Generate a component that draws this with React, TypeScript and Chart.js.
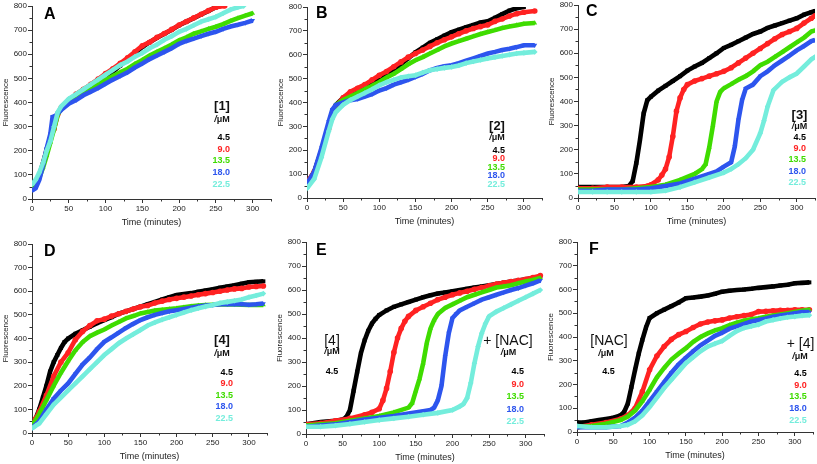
import React, { useEffect, useRef } from "react";
import { Chart, registerables } from "chart.js";

Chart.register(...registerables);

type Pt = [number, number];

const FONT = "'Liberation Sans', Arial, sans-serif";
const SERIES_COLORS = ["#000000", "#ff2222", "#3fdc00", "#2d55ee", "#74eddc"];
const CONC_LABELS = ["4.5", "9.0", "13.5", "18.0", "22.5"];
const X_TICKS = [0, 50, 100, 150, 200, 250, 300];
const Y_TICKS = [0, 100, 200, 300, 400, 500, 600, 700, 800];
const X_MINOR = [25, 75, 125, 175, 225, 275, 325];
const Y_MINOR = [50, 150, 250, 350, 450, 550, 650, 750];
const X_MAX = 325;
const Y_MAX = 800;

// ---------- Panel A : [1] ----------
const A_black: Pt[] = [[0,45],[5,70],[10,100],[15,150],[20,205],[25,255],[30,310],[35,355],[40,380],[50,405],[60,425],[70,445],[80,465],[90,482],[100,503],[110,528],[120,553],[130,580],[140,605],[150,630],[160,650],[170,668],[180,685],[190,702],[200,720],[210,735],[220,750],[230,765],[240,780],[250,795],[256,800]];
const A_red: Pt[] = [[0,45],[5,65],[10,95],[15,145],[20,200],[25,250],[30,290],[35,350],[40,380],[50,410],[60,435],[70,455],[80,475],[90,497],[100,520],[110,540],[120,562],[130,585],[140,610],[150,635],[160,650],[170,670],[180,686],[190,703],[200,721],[210,736],[220,751],[230,766],[240,781],[250,795],[262,800]];
const A_green: Pt[] = [[0,40],[5,60],[10,90],[15,130],[20,180],[25,235],[30,290],[35,350],[40,375],[50,400],[60,420],[70,440],[80,455],[90,475],[100,493],[110,510],[120,525],[130,540],[140,560],[150,576],[160,595],[170,610],[180,625],[190,640],[200,658],[210,670],[220,685],[230,695],[240,705],[250,714],[260,725],[270,738],[280,750],[290,760],[300,770]];
const A_blue: Pt[] = [[0,35],[5,45],[10,80],[15,140],[20,210],[25,270],[28,340],[32,345],[35,355],[40,370],[50,395],[60,410],[70,430],[80,445],[90,460],[100,478],[110,495],[120,510],[130,525],[140,545],[150,562],[160,580],[170,595],[180,610],[190,625],[200,643],[210,655],[220,665],[230,675],[240,685],[250,693],[260,705],[270,715],[280,722],[290,730],[300,740]];
const A_cyan: Pt[] = [[0,60],[5,80],[10,110],[15,150],[20,200],[25,240],[30,300],[35,360],[40,385],[50,415],[60,435],[70,455],[80,475],[90,495],[100,515],[110,535],[120,555],[130,570],[140,590],[150,605],[160,625],[170,640],[180,660],[190,675],[200,693],[210,705],[220,720],[230,735],[240,745],[250,755],[260,770],[270,785],[280,795],[288,800]];

// ---------- Panel B : [2] ----------
const B_black: Pt[] = [[0,60],[10,110],[20,200],[30,300],[35,360],[40,390],[50,420],[60,440],[70,455],[80,470],[90,480],[100,495],[110,515],[120,535],[130,560],[140,585],[150,610],[160,630],[170,650],[180,665],[190,680],[200,695],[210,705],[220,715],[230,725],[240,735],[250,740],[260,755],[270,770],[280,785],[290,795],[300,800]];
const B_red: Pt[] = [[0,65],[10,110],[20,190],[30,290],[35,340],[40,385],[50,420],[60,445],[70,460],[80,475],[90,495],[100,514],[110,530],[120,550],[130,570],[140,590],[150,605],[160,620],[170,635],[180,650],[190,663],[200,675],[210,688],[220,700],[230,710],[240,718],[250,725],[260,740],[270,750],[280,762],[290,772],[300,778],[315,783]];
const B_green: Pt[] = [[0,55],[10,100],[20,190],[30,300],[40,390],[50,410],[60,425],[70,440],[80,455],[90,470],[100,486],[110,505],[120,520],[130,540],[140,560],[150,577],[160,590],[170,605],[180,620],[190,635],[200,647],[210,657],[220,667],[230,677],[240,687],[250,695],[260,703],[270,712],[280,718],[290,724],[300,730],[315,733]];
const B_blue: Pt[] = [[0,60],[10,110],[20,210],[30,320],[35,370],[40,390],[50,400],[60,410],[70,415],[80,425],[90,435],[100,450],[110,460],[120,475],[130,485],[140,495],[150,507],[160,520],[170,535],[180,545],[190,552],[200,556],[210,565],[220,575],[230,585],[240,595],[250,605],[260,612],[270,620],[280,625],[290,632],[300,640],[315,640]];
const B_cyan: Pt[] = [[0,40],[10,80],[20,170],[30,280],[35,330],[40,360],[50,390],[60,410],[70,425],[80,440],[90,455],[100,472],[110,485],[120,495],[130,505],[140,510],[150,514],[160,525],[170,535],[180,540],[190,545],[200,549],[210,555],[220,565],[230,572],[240,578],[250,584],[260,590],[270,595],[280,600],[290,605],[300,608],[315,612]];

// ---------- Panel C : [3] ----------
const C_black: Pt[] = [[0,45],[20,45],[40,45],[60,45],[70,50],[75,70],[80,145],[85,241],[90,350],[95,405],[100,420],[110,445],[120,465],[130,485],[140,505],[150,528],[160,545],[170,560],[180,580],[190,600],[200,622],[210,635],[220,650],[230,665],[240,680],[250,690],[260,705],[270,715],[280,725],[290,735],[300,745],[310,760],[320,770],[325,775]];
const C_red: Pt[] = [[0,40],[20,40],[40,45],[60,45],[80,45],[95,50],[100,55],[110,75],[115,95],[120,120],[125,170],[130,255],[135,360],[140,415],[145,450],[150,470],[160,485],[170,495],[180,505],[190,515],[200,525],[210,540],[220,560],[230,580],[240,600],[250,620],[260,640],[270,660],[280,678],[290,690],[300,703],[310,725],[320,745],[325,755]];
const C_green: Pt[] = [[0,35],[20,35],[40,35],[60,35],[80,40],[100,45],[120,55],[140,75],[160,100],[170,120],[175,140],[180,210],[185,300],[190,400],[195,440],[200,455],[210,472],[220,490],[230,505],[240,525],[250,550],[260,565],[270,585],[280,605],[290,625],[300,645],[310,665],[320,690],[325,695]];
const C_blue: Pt[] = [[0,30],[20,30],[40,35],[60,35],[80,35],[100,40],[120,50],[140,60],[160,80],[180,100],[190,110],[200,130],[210,148],[215,213],[220,324],[225,406],[230,454],[240,470],[250,505],[260,525],[270,550],[280,570],[290,590],[300,612],[310,630],[320,650],[325,655]];
const C_cyan: Pt[] = [[0,25],[20,25],[40,25],[60,25],[80,25],[100,25],[120,30],[140,45],[160,65],[180,85],[200,105],[210,120],[220,140],[230,165],[240,200],[250,269],[255,320],[260,379],[268,447],[280,482],[290,500],[300,516],[310,545],[320,575],[325,585]];

// ---------- Panel D : [4] ----------
const D_black: Pt[] = [[0,30],[5,60],[10,100],[15,150],[20,200],[25,260],[30,300],[35,330],[40,360],[45,385],[50,400],[60,420],[70,435],[80,450],[90,465],[100,478],[110,490],[120,505],[130,515],[140,525],[150,535],[160,545],[170,555],[180,565],[190,575],[200,584],[210,588],[220,592],[230,598],[240,603],[250,608],[260,615],[270,620],[280,625],[290,632],[300,638],[310,640],[320,642]];
const D_red: Pt[] = [[0,30],[5,60],[10,90],[20,160],[30,240],[40,300],[50,340],[60,395],[70,430],[80,455],[90,475],[100,482],[110,495],[120,505],[130,515],[140,525],[150,534],[160,540],[170,550],[180,558],[190,565],[200,570],[210,575],[220,580],[230,585],[240,590],[250,595],[260,600],[270,605],[280,610],[290,612],[300,618],[310,620],[320,622]];
const D_green: Pt[] = [[0,30],[5,55],[10,80],[20,140],[30,200],[40,255],[50,305],[60,350],[70,385],[80,410],[90,425],[100,438],[110,455],[120,470],[130,485],[140,495],[150,506],[160,512],[170,518],[180,522],[190,525],[200,528],[210,532],[220,536],[230,540],[240,542],[250,543],[260,544],[270,544],[280,544],[290,543],[300,542],[310,542],[320,542]];
const D_blue: Pt[] = [[0,20],[5,35],[10,50],[20,100],[30,145],[40,180],[50,210],[60,250],[70,290],[80,320],[90,355],[100,386],[110,405],[120,425],[130,445],[140,462],[150,478],[160,490],[170,500],[180,508],[190,515],[200,520],[210,525],[220,530],[230,535],[240,540],[250,542],[260,545],[270,545],[280,545],[290,545],[300,543],[310,545],[320,548]];
const D_cyan: Pt[] = [[0,20],[5,30],[10,40],[20,80],[30,120],[40,150],[50,180],[60,210],[70,240],[80,270],[90,300],[100,330],[110,355],[120,380],[130,400],[140,418],[150,436],[160,455],[170,468],[180,480],[190,490],[200,500],[210,510],[220,520],[230,528],[240,535],[250,542],[260,550],[270,555],[280,560],[290,565],[300,575],[310,582],[320,590]];

// ---------- Panel E : [4] + [NAC] ----------
const E_black: Pt[] = [[0,40],[20,50],[40,55],[50,60],[55,70],[60,100],[65,180],[70,260],[75,337],[80,390],[85,430],[90,460],[95,480],[100,496],[110,515],[120,530],[130,540],[140,550],[150,560],[160,570],[170,578],[180,585],[190,590],[200,595],[210,600],[220,605],[230,610],[240,615],[250,620],[260,625],[270,630],[280,635],[290,640],[300,645],[310,650],[320,655]];
const E_red: Pt[] = [[0,40],[20,45],[40,55],[60,65],[80,80],[90,90],[100,105],[105,140],[110,190],[115,260],[120,340],[125,400],[130,440],[135,470],[140,490],[150,515],[160,530],[170,545],[180,560],[190,570],[200,580],[210,588],[220,595],[230,603],[240,610],[250,618],[260,625],[270,630],[280,635],[290,640],[300,645],[310,652],[320,660]];
const E_green: Pt[] = [[0,35],[20,40],[40,45],[60,55],[80,65],[100,75],[120,90],[140,110],[145,129],[150,180],[155,230],[160,295],[165,380],[170,440],[175,475],[180,500],[190,525],[200,540],[210,555],[220,570],[230,580],[240,590],[250,600],[260,610],[270,615],[280,620],[290,628],[300,635],[310,642],[320,650]];
const E_blue: Pt[] = [[0,30],[20,35],[40,40],[60,50],[80,60],[100,68],[120,75],[140,85],[160,95],[170,100],[175,110],[180,140],[185,200],[190,323],[195,420],[200,483],[205,500],[210,515],[220,530],[230,545],[240,560],[250,570],[260,580],[270,590],[280,600],[290,608],[300,618],[310,628],[320,640]];
const E_cyan: Pt[] = [[0,30],[20,30],[40,35],[60,42],[80,50],[100,58],[120,65],[140,72],[160,80],[180,88],[200,100],[210,115],[215,125],[220,150],[225,212],[230,295],[235,365],[240,420],[245,460],[250,490],[260,510],[270,525],[280,540],[290,555],[300,570],[310,585],[320,600]];

// ---------- Panel F : [NAC] + [4] ----------
const F_black: Pt[] = [[0,40],[10,40],[20,45],[30,50],[40,55],[50,60],[60,70],[65,85],[70,120],[75,190],[80,262],[85,330],[90,388],[95,440],[100,480],[110,500],[120,515],[130,530],[140,545],[150,563],[160,566],[170,570],[180,575],[190,582],[200,591],[210,595],[220,598],[230,600],[240,603],[250,607],[260,610],[270,613],[280,617],[290,620],[300,626],[310,628],[320,630]];
const F_red: Pt[] = [[0,20],[20,30],[40,40],[60,55],[70,70],[80,100],[90,170],[100,262],[110,320],[120,360],[130,390],[140,410],[150,423],[160,440],[170,455],[180,463],[190,468],[200,472],[210,480],[220,485],[230,490],[240,495],[250,507],[260,508],[270,510],[280,512],[290,512],[300,515],[310,515],[320,515]];
const F_green: Pt[] = [[0,20],[20,25],[40,35],[60,50],[70,65],[80,90],[90,130],[100,178],[110,230],[120,270],[130,305],[140,330],[150,353],[160,380],[170,400],[180,415],[190,428],[200,437],[210,450],[220,460],[230,468],[240,475],[250,479],[260,485],[270,490],[280,495],[290,500],[300,505],[310,510],[320,515]];
const F_blue: Pt[] = [[0,20],[20,20],[40,20],[60,25],[70,40],[80,60],[90,90],[100,130],[110,170],[120,210],[130,250],[140,285],[150,313],[160,340],[170,365],[180,385],[190,405],[200,418],[210,435],[220,445],[230,455],[240,465],[250,472],[260,478],[270,485],[280,490],[290,495],[300,500],[310,505],[320,505]];
const F_cyan: Pt[] = [[0,25],[20,20],[40,20],[60,25],[70,30],[80,45],[90,70],[100,105],[110,145],[120,185],[130,220],[140,255],[150,290],[160,315],[170,340],[180,360],[190,372],[200,383],[210,405],[220,425],[230,438],[240,445],[250,452],[260,465],[270,472],[280,478],[290,483],[300,486],[310,490],[320,492]];

// ---------- layout ----------
type LegendItem = { text: React.ReactNode; x: number; y: number; size: number; bold?: boolean; color?: string; align: "left" | "center" | "right" };
type PanelCfg = { L: number; T: number; R: number; B: number; series: Pt[][]; letter: string; letterX: number; letterY: number; legend: LegendItem[] };

const PAD_L = 32, PAD_T = 8, PAD_R = 6, PAD_B = 30;

const UM = <><span style={{ fontStyle: "italic" }}>/</span>μM</>;

function valueItems(right: number, y0: number, dy: number): LegendItem[] {
  return CONC_LABELS.map((t, i) => ({ text: t, x: right, y: y0 + dy * i, size: 9, bold: true, color: SERIES_COLORS[i], align: "right" as const }));
}

const PANELS: PanelCfg[] = [
  { L: 32, T: 6, R: 271.4, B: 199, series: [A_black, A_red, A_green, A_blue, A_cyan], letter: "A", letterX: 44, letterY: 13.5,
    legend: [{ text: "[1]", x: 222, y: 105, size: 13, bold: true, align: "center" }, { text: UM, x: 222, y: 119.5, size: 9, bold: true, align: "center" }, ...valueItems(230, 137.7, 11.6)] },
  { L: 306.7, T: 6.7, R: 541.4, B: 197.7, series: [B_black, B_red, B_green, B_blue, B_cyan], letter: "B", letterX: 316, letterY: 12.5,
    legend: [{ text: "[2]", x: 497, y: 125, size: 13, bold: true, align: "center" }, { text: UM, x: 497, y: 137, size: 9, bold: true, align: "center" }, ...valueItems(505, 150, 8.6)] },
  { L: 577.7, T: 4.7, R: 815, B: 198, series: [C_black, C_red, C_green, C_blue, C_cyan], letter: "C", letterX: 586, letterY: 10.8,
    legend: [{ text: "[3]", x: 799.5, y: 114, size: 13, bold: true, align: "center" }, { text: UM, x: 799.5, y: 126.5, size: 9, bold: true, align: "center" }, ...valueItems(806, 137.5, 11.2)] },
  { L: 32, T: 244, R: 267, B: 433, series: [D_black, D_red, D_green, D_blue, D_cyan], letter: "D", letterX: 44, letterY: 250.8,
    legend: [{ text: "[4]", x: 222, y: 339, size: 13, bold: true, align: "center" }, { text: UM, x: 222, y: 353, size: 9, bold: true, align: "center" }, ...valueItems(233, 372, 11.5)] },
  { L: 305.7, T: 242, R: 543.3, B: 434.3, series: [E_black, E_red, E_green, E_blue, E_cyan], letter: "E", letterX: 316, letterY: 249.7,
    legend: [
      { text: "[4]", x: 332, y: 340, size: 14, align: "center" }, { text: UM, x: 332, y: 351.7, size: 9, bold: true, align: "center" },
      { text: "4.5", x: 332, y: 371.7, size: 9, bold: true, color: SERIES_COLORS[0], align: "center" },
      { text: "+ [NAC]", x: 508, y: 340, size: 14, align: "center" }, { text: UM, x: 508.5, y: 352.7, size: 9, bold: true, align: "center" },
      ...valueItems(524, 371.7, 12.5)] },
  { L: 577.3, T: 242, R: 813.2, B: 432.3, series: [F_black, F_red, F_green, F_blue, F_cyan], letter: "F", letterX: 589, letterY: 249,
    legend: [
      { text: "[NAC]", x: 609, y: 340, size: 14, align: "center" }, { text: UM, x: 606, y: 353, size: 9, bold: true, align: "center" },
      { text: "4.5", x: 608.5, y: 371.7, size: 9, bold: true, color: SERIES_COLORS[0], align: "center" },
      { text: "+ [4]", x: 800.5, y: 343, size: 14, align: "center" }, { text: UM, x: 800, y: 356.7, size: 9, bold: true, align: "center" },
      ...valueItems(806.7, 373.3, 11.7)] },
];

const POINT_STYLES = ["rect", "circle", "triangle", "triangle", "rectRot"];
const POINT_ROT = [0, 0, 0, 180, 0];

const minorTicks = {
  id: "minorTicks",
  afterDraw(chart: any) {
    const { ctx, scales } = chart;
    const x = scales.x, y = scales.y;
    ctx.save();
    ctx.strokeStyle = "#333";
    ctx.lineWidth = 1;
    ctx.beginPath();
    X_MINOR.forEach((v) => {
      const px = Math.round(x.getPixelForValue(v)) + 0.5;
      ctx.moveTo(px, x.top);
      ctx.lineTo(px, x.top + 2.5);
    });
    Y_MINOR.forEach((v) => {
      const py = Math.round(y.getPixelForValue(v)) + 0.5;
      ctx.moveTo(y.right, py);
      ctx.lineTo(y.right - 2.5, py);
    });
    ctx.stroke();
    ctx.restore();
  },
};

function PanelChart({ p }: { p: PanelCfg }) {
  const ref = useRef<HTMLCanvasElement>(null);
  const w = Math.round(p.R - p.L + PAD_L + PAD_R);
  const h = Math.round(p.B - p.T + PAD_T + PAD_B);
  useEffect(() => {
    const datasets = p.series.map((s, i) => ({
      data: s.map(([x, y]) => ({ x, y })),
      borderColor: SERIES_COLORS[i],
      backgroundColor: SERIES_COLORS[i],
      borderWidth: 4.6,
      showLine: true,
      tension: 0,
      pointRadius: 2.8,
      pointBorderWidth: 0,
      pointStyle: POINT_STYLES[i] as any,
      pointRotation: POINT_ROT[i],
      order: 4 - i,
    }));
    const tickFont = { family: FONT, size: 8 };
    const chart = new Chart(ref.current!, {
      type: "scatter",
      data: { datasets },
      plugins: [minorTicks],
      options: {
        animation: false,
        responsive: false,
        events: [],
        layout: { padding: { left: 0, top: PAD_T, right: PAD_R, bottom: 0 } },
        plugins: { legend: { display: false }, tooltip: { enabled: false } },
        scales: {
          x: {
            type: "linear",
            min: 0,
            max: X_MAX,
            afterBuildTicks: (s: any) => { s.ticks = X_TICKS.map((v) => ({ value: v })); },
            afterFit: (s: any) => { s.height = PAD_B; },
            grid: { display: true, drawOnChartArea: false, drawTicks: true, tickLength: 4, tickColor: "#333", lineWidth: 1 },
            border: { display: true, color: "#333", width: 1 },
            ticks: { font: tickFont, color: "#222", padding: 1, maxRotation: 0, autoSkip: false },
            title: { display: true, text: "Time (minutes)", font: { family: FONT, size: 9 }, color: "#222", padding: { top: 0, bottom: 0.6 } },
          },
          y: {
            type: "linear",
            min: 0,
            max: Y_MAX,
            afterBuildTicks: (s: any) => { s.ticks = Y_TICKS.map((v) => ({ value: v })); },
            afterFit: (s: any) => { s.width = PAD_L; },
            grid: { display: true, drawOnChartArea: false, drawTicks: true, tickLength: 4, tickColor: "#333", lineWidth: 1 },
            border: { display: true, color: "#333", width: 1 },
            ticks: { font: tickFont, color: "#222", padding: 1, autoSkip: false },
            title: { display: true, text: "Fluorescence", font: { family: FONT, size: 8 }, color: "#222", padding: { top: 0.7, bottom: 0 } },
          },
        },
      },
    } as any);
    return () => chart.destroy();
  }, []);
  return (
    <canvas
      ref={ref}
      width={w}
      height={h}
      style={{ position: "absolute", left: p.L - PAD_L, top: p.T - PAD_T, width: w, height: h }}
    />
  );
}

function Label({ it }: { it: LegendItem }) {
  const tx = it.align === "right" ? "translateX(-100%)" : it.align === "center" ? "translateX(-50%)" : "none";
  return (
    <div
      style={{
        position: "absolute",
        left: it.x,
        top: it.y - it.size / 2,
        fontSize: it.size,
        lineHeight: `${it.size}px`,
        fontWeight: it.bold ? 700 : 400,
        color: it.color || "#111",
        fontFamily: FONT,
        whiteSpace: "nowrap",
        transform: tx,
      }}
    >
      {it.text}
    </div>
  );
}

export default function App() {
  return (
    <div style={{ position: "absolute", left: 0, top: 0, width: 817, height: 464, background: "#fff", overflow: "hidden" }}>
      {PANELS.map((p, i) => (
        <React.Fragment key={i}>
          <PanelChart p={p} />
          <div
            style={{ position: "absolute", left: p.letterX, top: p.letterY - 8, fontSize: 16, lineHeight: "16px", fontWeight: 700, fontFamily: FONT, color: "#000" }}
          >
            {p.letter}
          </div>
          {p.legend.map((it, j) => (
            <Label key={j} it={it} />
          ))}
        </React.Fragment>
      ))}
    </div>
  );
}
